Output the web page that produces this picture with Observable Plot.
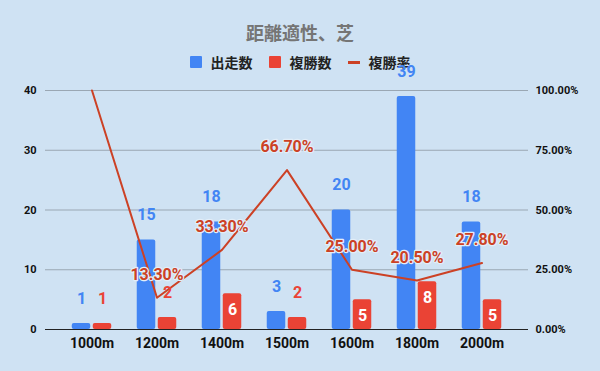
<!DOCTYPE html>
<html><head><meta charset="utf-8">
<script src="https://cdn.jsdelivr.net/npm/d3@7"></script>
<script src="https://cdn.jsdelivr.net/npm/@observablehq/plot@0.6"></script>
<style>
body{margin:0;}
#wrap{position:relative;width:600px;height:371px;background:#cfe2f3;font-family:Roboto,"Noto Sans CJK JP",sans-serif;overflow:hidden;}
#title{position:absolute;left:0;width:600px;top:20px;text-align:center;font:bold 18px "Noto Sans CJK JP",sans-serif;color:#757575;line-height:24px;}
#legend{position:absolute;left:0;width:600px;top:52px;height:20px;display:flex;justify-content:center;align-items:center;font:bold 14px "Noto Sans CJK JP",sans-serif;color:#222;}
#legend .sw{width:12px;height:12px;border-radius:1px;margin-right:9px;}
#legend .ln{width:12px;height:3px;margin-right:9px;}
#legend .item{display:flex;align-items:center;margin:0 8px;}
#chart{position:absolute;left:0;top:75px;}
</style></head>
<body>
<div id="wrap">
  <div id="title"></div>
  <div id="legend"></div>
  <div id="chart"></div>
</div>
<script>
const title = "距離適性、芝";
const seriesNames = ["出走数", "複勝数", "複勝率"];
const distances = ["1000m","1200m","1400m","1500m","1600m","1800m","2000m"];
const starts = [1, 15, 18, 3, 20, 39, 18];
const places = [1, 2, 6, 2, 5, 8, 5];
const rates = [1.0, 0.133, 0.333, 0.667, 0.25, 0.205, 0.278];
const leftTicks = [0, 10, 20, 30, 40];
const rightTicks = ["0.00%", "25.00%", "50.00%", "75.00%", "100.00%"];

const BLUE = "#4285f4", RED = "#ea4335", LINE = "#cc4125";

document.getElementById("title").textContent = title;
const legend = document.getElementById("legend");
[[seriesNames[0], "sw", BLUE], [seriesNames[1], "sw", RED], [seriesNames[2], "ln", LINE]].forEach(([name, cls, col]) => {
  const it = document.createElement("div"); it.className = "item";
  const m = document.createElement("div"); m.className = cls; m.style.background = col;
  const t = document.createElement("span"); t.textContent = name;
  it.appendChild(m); it.appendChild(t); legend.appendChild(it);
});

const data = distances.map((d, i) => ({dist: d, starts: starts[i], places: places[i], rate: rates[i]}));
const yMax = 40;
const fmtPct = v => (v * 100).toFixed(2) + "%";

const chart = Plot.plot({
  width: 600,
  height: 296,
  marginTop: 15,
  marginBottom: 42,
  marginLeft: 45,
  marginRight: 72,
  style: {background: "transparent", overflow: "visible", fontFamily: "Roboto, sans-serif"},
  x: {domain: distances, type: "band", paddingInner: 0, paddingOuter: 0.187, label: null},
  y: {domain: [0, yMax], label: null},
  marks: [
    Plot.gridY(leftTicks, {stroke: "#9aa7b3", strokeOpacity: 1}),
    Plot.axisY(leftTicks, {anchor: "left", tickSize: 0, tickPadding: 9, fontSize: 11, fontWeight: "bold", fill: "#111", label: null}),
    Plot.axisY(leftTicks, {anchor: "right", tickSize: 0, tickPadding: 7, fontSize: 11, fontWeight: "bold", fill: "#111", label: null,
      tickFormat: (d, i) => rightTicks[leftTicks.indexOf(d)]}),
    Plot.axisX({tickSize: 0, tickPadding: 9, fontSize: 14, fontWeight: "bold", fill: "#111", label: null}),
    Plot.barY(data, {x: "dist", y: "starts", fill: BLUE, insetLeft: 12.75, insetRight: 33.75, rx: 2}),
    Plot.barY(data, {x: "dist", y: "places", fill: RED, insetLeft: 33.75, insetRight: 12.75, rx: 2}),
    Plot.ruleY([0], {stroke: "#222"}),
    Plot.line(data, {x: "dist", y: d => d.rate * yMax, stroke: LINE, strokeWidth: 2}),
    Plot.text(data, {x: "dist", y: "starts", text: d => String(d.starts), dx: -10.5, dy: -25, fill: BLUE, fontSize: 16, fontWeight: "bold"}),
    Plot.text(data.filter(d => d.places >= 5), {x: "dist", y: "places", text: d => String(d.places), dx: 10.5, dy: 16, fill: "white", fontSize: 16, fontWeight: "bold"}),
    Plot.text(data.filter(d => d.places < 5), {x: "dist", y: "places", text: d => String(d.places), dx: 10.5, dy: -25, fill: RED, fontSize: 16, fontWeight: "bold"}),
    Plot.text(data.filter(d => d.rate < 1), {x: "dist", y: d => d.rate * yMax, text: d => fmtPct(d.rate), dy: -23, fill: LINE, stroke: "#e3eef8", strokeWidth: 2.5, fontSize: 16, fontWeight: "bold"})
  ]
});
document.getElementById("chart").appendChild(chart);
</script>
</body></html>
